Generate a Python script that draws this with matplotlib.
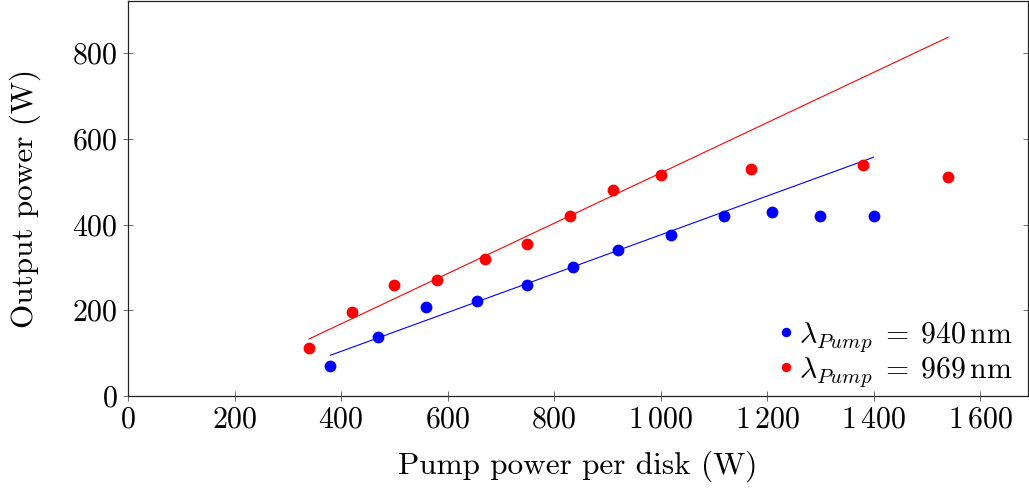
import matplotlib
matplotlib.use("Agg")
from matplotlib import pyplot as plt
from matplotlib.ticker import FuncFormatter

plt.rcParams['mathtext.fontset'] = 'cm'
plt.rcParams['font.family'] = 'serif'
plt.rcParams['font.serif'] = ['cmr10', 'DejaVu Serif']
plt.rcParams['axes.unicode_minus'] = False

# measured points, 940 nm pump
x940 = [380, 470, 560, 655, 750, 835, 920, 1020, 1120, 1210, 1300, 1400]
y940 = [70, 138, 208, 222, 260, 302, 340, 376, 420, 430, 420, 420]
# measured points, 969 nm pump
x969 = [340, 420, 500, 580, 670, 750, 830, 910, 1000, 1170, 1380, 1540]
y969 = [112, 195, 260, 270, 320, 355, 420, 480, 515, 530, 540, 510]
# fit lines (end points)
fit940_x = [380, 1400]
fit940_y = [95, 557]
fit969_x = [340, 1540]
fit969_y = [133, 837]

xticks = [0, 200, 400, 600, 800, 1000, 1200, 1400, 1600]
yticks = [0, 200, 400, 600, 800]

fig = plt.figure(figsize=(10.29, 4.91), dpi=100)
ax = fig.add_axes([0.1244, 0.1935, 0.8746, 0.804])

ax.plot(fit940_x, fit940_y, color='blue', lw=0.8)
ax.plot(fit969_x, fit969_y, color='red', lw=0.8)
ax.plot(x940, y940, 'o', color='blue', ms=8.5, mew=0, label=r'$\lambda_{Pump}\;=\;940\,\mathrm{nm}$')
ax.plot(x969, y969, 'o', color='red', ms=8.5, mew=0, label=r'$\lambda_{Pump}\;=\;969\,\mathrm{nm}$')

ax.set_xlim(0, 1690)
ax.set_ylim(0, 921)
ax.set_xticks(xticks)
ax.set_yticks(yticks)

def fmt(v, pos):
    v = int(round(v))
    if v >= 1000:
        return r'$%d\,%03d$' % (v // 1000, v % 1000)
    return r'$%d$' % v

ax.xaxis.set_major_formatter(FuncFormatter(fmt))
ax.yaxis.set_major_formatter(FuncFormatter(fmt))
ax.tick_params(direction='inout', length=7, width=0.6, color='#555555', labelsize=21.5, pad=4,
               left=True, right=True, bottom=True, top=False)
for s in ax.spines.values():
    s.set_linewidth(0.9)
    s.set_color('#222222')

ax.set_xlabel('Pump power per disk (W)', fontsize=22.5, labelpad=12)
ax.set_ylabel('Output power (W)', fontsize=22.5, labelpad=22)

leg = ax.legend(loc='lower right', bbox_to_anchor=(1.0, -0.02), frameon=False, fontsize=21.5,
                handletextpad=0.0, handlelength=0.9, labelspacing=0.05, borderaxespad=0.1,
                markerscale=0.8)

fig.savefig('out.png', dpi=100)
